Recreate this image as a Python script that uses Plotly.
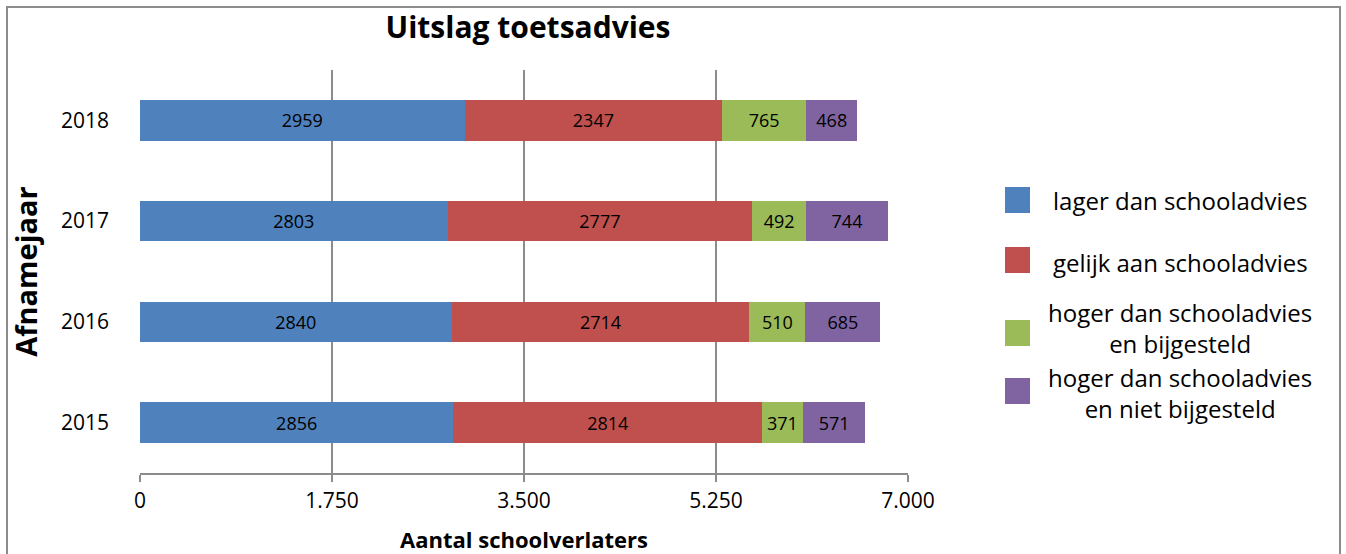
import plotly.graph_objects as go

years = ["2015", "2016", "2017", "2018"]
lager = [2856, 2840, 2803, 2959]
gelijk = [2814, 2714, 2777, 2347]
hoger_bij = [371, 510, 492, 765]
hoger_niet = [571, 685, 744, 468]
series_names = [
    "lager dan schooladvies",
    "gelijk aan schooladvies",
    "hoger dan schooladvies<br>en bijgesteld",
    "hoger dan schooladvies<br>en niet bijgesteld",
]
colors = ["#4F81BD", "#C0504D", "#9BBB59", "#8064A2"]
xticks = [0, 1750, 3500, 5250, 7000]

FONT = "Open Sans"
fig = go.Figure()
for name, vals, col in zip(series_names, [lager, gelijk, hoger_bij, hoger_niet], colors):
    fig.add_trace(go.Bar(
        y=years, x=vals, name=name, orientation="h",
        marker=dict(color=col, line=dict(width=0)),
        text=[str(v) for v in vals], textposition="inside",
        insidetextanchor="middle", textangle=0, constraintext="none",
        textfont=dict(color="black", size=18, family=FONT),
        showlegend=False,
    ))

W, H = 1346, 554
L, R, T, B = 140, 908, 70, 473
pw, ph = R - L, B - T

def px(x):
    return (x - L) / pw

def py(y):
    return (B - y) / ph

fig.update_layout(
    width=W, height=H,
    barmode="stack", bargap=0.6,
    separators=",.",
    plot_bgcolor="white", paper_bgcolor="white",
    margin=dict(l=L, r=W - R, t=T, b=H - B, pad=0),
    font=dict(family=FONT, color="black", size=21),
    title=dict(text="<b>Uitslag toetsadvies</b>", x=px(528), xref="paper",
               xanchor="center", y=1 - 27 / H, yanchor="middle",
               font=dict(size=30, family=FONT, color="black")),
    xaxis=dict(range=[0, 7000], tickvals=xticks, tickformat=",d",
               showgrid=True, gridcolor="#8c8c8c", gridwidth=2,
               showline=True, linecolor="#8c8c8c", linewidth=2,
               ticks="outside", ticklen=7, tickwidth=2, tickcolor="#8c8c8c",
               zeroline=False, tickfont=dict(size=21), ticklabelstandoff=1,
               automargin=False,
               title=dict(text="<b>Aantal schoolverlaters</b>", standoff=22,
                          font=dict(size=22))),
    yaxis=dict(type="category", categoryorder="array", categoryarray=years,
               range=[-0.5, 3.5], showgrid=False, showline=False, zeroline=False,
               ticks="", ticklabelstandoff=30, tickfont=dict(size=21),
               automargin=False,
               title=dict(text="<b>Afnamejaar</b>", standoff=14,
                          font=dict(size=29))),
    showlegend=False,
)

# outer chart frame
fig.add_shape(type="rect", xref="paper", yref="paper",
              x0=px(7), x1=px(1340), y0=py(570), y1=py(7),
              line=dict(color="#8c8c8c", width=2), layer="below")

# legend drawn from the series names and colours
leg_sq_y = [200, 260, 333, 391]
leg_txt_y = [200, 262, 328, 393]
for name, col, ys, yt in zip(series_names, colors, leg_sq_y, leg_txt_y):
    fig.add_shape(type="rect", xref="paper", yref="paper",
                  x0=px(1005), x1=px(1030), y0=py(ys + 13), y1=py(ys - 13),
                  fillcolor=col, line=dict(width=0))
    fig.add_annotation(xref="paper", yref="paper", x=px(1180), y=py(yt),
                       xanchor="center", yanchor="middle", align="center",
                       text=name, showarrow=False, borderpad=0,
                       font=dict(size=24, family=FONT, color="black"))

fig.write_html("out.html", config={"displayModeBar": False},
               post_script="document.body.style.margin='0';")
